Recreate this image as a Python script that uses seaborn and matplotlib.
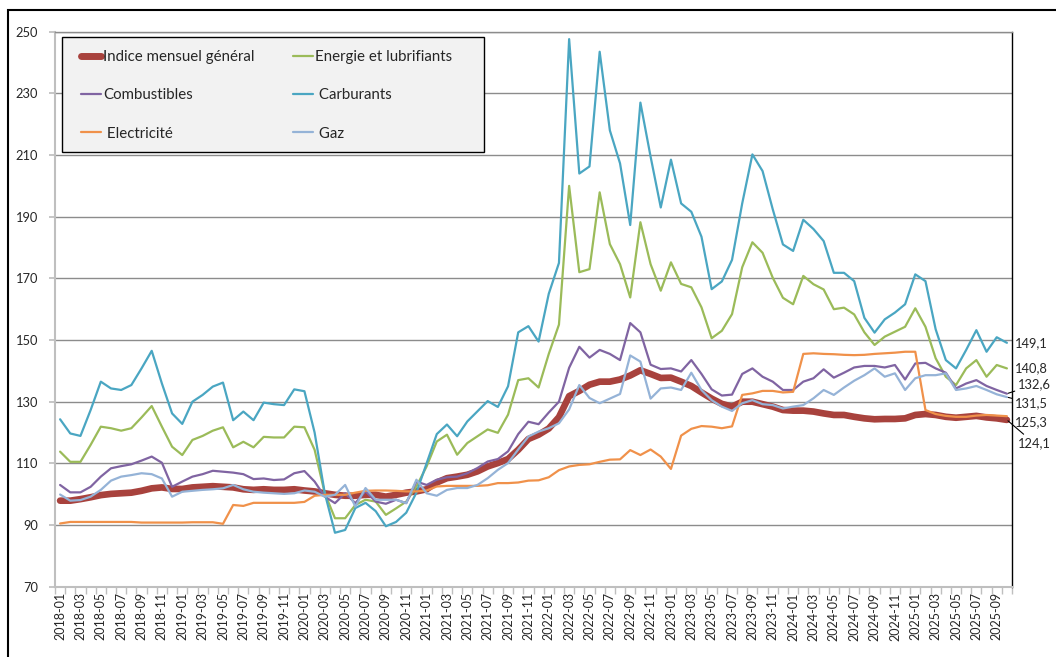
import numpy as np
import pandas as pd
import matplotlib.pyplot as plt
from matplotlib.lines import Line2D
from matplotlib.patches import Rectangle
import seaborn as sns

# monthly series, 2018-01 .. 2025-10
months = pd.date_range('2018-01', periods=94, freq='MS').strftime('%Y-%m').tolist()

indice = [97.9, 97.9, 98.4, 99.0, 99.7, 100.1, 100.3, 100.5, 101.1, 101.9, 102.2, 101.7,
          101.7, 102.2, 102.4, 102.6, 102.4, 102.2, 101.6, 101.4, 101.6, 101.4, 101.4, 101.6,
          101.2, 100.9, 100.3, 99.8, 99.5, 99.5, 99.8, 99.8, 99.2, 99.8, 100.5, 100.9,
          101.6, 103.8, 105.2, 105.7, 106.3, 107.4, 109.0, 110.1, 111.4, 114.4, 117.9, 119.3,
          121.3, 125.0, 131.8, 133.5, 135.5, 136.5, 136.5, 137.2, 138.5, 140.2, 139.0, 137.7,
          137.8, 136.5, 135.1, 133.0, 131.0, 129.3, 128.4, 130.0, 130.0, 129.2, 128.4, 127.3,
          127.1, 127.1, 126.8, 126.2, 125.7, 125.7, 125.1, 124.6, 124.3, 124.4, 124.4, 124.6,
          125.7, 126.0, 125.7, 125.1, 124.8, 125.1, 125.4, 124.9, 124.6, 124.1]

energie = [113.8, 110.5, 110.5, 116.0, 121.9, 121.4, 120.6, 121.4, 124.9, 128.6, 121.9, 115.4,
           112.7, 117.6, 118.9, 120.6, 121.7, 115.2, 117.0, 115.2, 118.6, 118.4, 118.4, 121.9,
           121.7, 114.4, 100.3, 92.2, 92.2, 96.5, 98.2, 97.6, 93.3, 95.4, 97.6, 102.5,
           109.0, 117.1, 119.3, 112.8, 116.6, 118.8, 121.0, 119.9, 125.8, 137.0, 137.6, 134.6,
           145.5, 155.0, 200.0, 172.0, 173.0, 197.9, 181.1, 174.6, 163.8, 188.2, 174.6, 166.0,
           175.2, 168.2, 167.1, 160.6, 150.6, 153.0, 158.4, 173.6, 181.7, 178.3, 170.2, 163.7,
           161.6, 170.8, 168.1, 166.4, 160.0, 160.5, 158.3, 152.5, 148.4, 151.1, 152.7, 154.3,
           160.3, 154.3, 144.1, 138.1, 135.4, 140.8, 143.5, 138.1, 141.9, 140.8]

combustibles = [103.0, 100.6, 100.6, 102.4, 105.7, 108.4, 109.1, 109.7, 110.9, 112.2, 110.2, 102.4,
                104.1, 105.7, 106.5, 107.6, 107.3, 107.0, 106.5, 104.9, 105.1, 104.6, 104.8, 106.8,
                107.5, 104.1, 99.2, 97.1, 100.3, 97.1, 101.0, 97.6, 96.9, 98.2, 97.1, 104.1,
                103.0, 104.7, 105.5, 105.7, 106.8, 108.5, 110.6, 111.4, 113.9, 119.5, 123.5, 122.7,
                126.5, 130.0, 141.0, 147.8, 144.3, 146.8, 145.5, 143.5, 155.5, 152.5, 142.0, 140.6,
                140.8, 139.8, 143.5, 139.0, 134.0, 132.0, 132.3, 139.0, 140.8, 138.1, 136.5, 133.8,
                133.8, 136.5, 137.6, 140.5, 137.8, 139.4, 141.1, 141.6, 141.6, 141.1, 141.9, 137.2,
                142.4, 142.6, 140.8, 139.4, 134.3, 135.9, 137.0, 135.1, 133.8, 132.6]

carburants = [124.3, 119.7, 118.9, 127.3, 136.5, 134.3, 133.8, 135.4, 140.8, 146.5, 135.9, 126.2,
              122.8, 130.0, 132.2, 134.9, 136.2, 124.0, 126.8, 124.0, 129.7, 129.2, 128.9, 134.0,
              133.4, 120.0, 100.3, 87.5, 88.4, 95.5, 97.2, 94.5, 89.6, 91.0, 94.0, 100.5,
              110.0, 119.5, 122.6, 118.8, 123.6, 126.9, 130.2, 128.3, 135.0, 152.5, 154.5, 149.5,
              165.0, 175.0, 247.6, 204.0, 206.3, 243.5, 218.0, 207.3, 187.3, 227.0, 209.5, 193.0,
              208.5, 194.3, 191.6, 183.5, 166.5, 169.0, 176.0, 194.3, 210.2, 204.8, 192.4, 181.0,
              178.9, 189.0, 186.0, 182.1, 171.8, 171.8, 169.1, 157.2, 152.4, 156.7, 158.9, 161.6,
              171.3, 169.1, 153.5, 143.5, 140.8, 146.8, 153.2, 146.2, 150.9, 149.1]

electricite = [90.5, 91.0, 91.0, 91.0, 91.0, 91.0, 91.0, 91.0, 90.8, 90.8, 90.8, 90.8,
               90.8, 90.9, 90.9, 90.9, 90.4, 96.5, 96.2, 97.2, 97.2, 97.2, 97.2, 97.2,
               97.5, 99.5, 99.8, 99.8, 99.8, 100.5, 101.1, 101.2, 101.2, 101.1, 100.9, 100.9,
               101.2, 102.5, 102.7, 102.7, 102.7, 102.7, 102.9, 103.6, 103.6, 103.8, 104.4, 104.5,
               105.5, 107.8, 109.0, 109.5, 109.7, 110.5, 111.2, 111.3, 114.3, 112.7, 114.5, 112.2,
               108.2, 119.0, 121.2, 122.1, 121.9, 121.4, 122.0, 132.2, 132.7, 133.5, 133.5, 133.0,
               133.2, 145.5, 145.7, 145.5, 145.4, 145.2, 145.1, 145.2, 145.5, 145.7, 145.9, 146.2,
               146.2, 127.3, 126.0, 125.4, 125.1, 125.1, 125.5, 125.7, 125.5, 125.3]

gaz = [99.9, 97.9, 98.1, 99.2, 101.4, 104.4, 105.7, 106.2, 106.8, 106.5, 105.1, 99.2,
       100.8, 101.1, 101.4, 101.6, 101.9, 103.0, 101.6, 100.8, 100.5, 100.3, 100.1, 100.3,
       101.2, 100.8, 99.2, 99.8, 103.0, 96.0, 102.0, 98.2, 98.2, 98.2, 97.1, 104.7,
       100.3, 99.5, 101.4, 102.0, 102.0, 103.0, 105.2, 107.9, 110.1, 114.5, 118.7, 120.3,
       121.4, 123.0, 127.5, 135.4, 131.2, 129.5, 131.0, 132.5, 145.0, 143.0, 131.0, 134.3,
       134.6, 133.8, 139.4, 133.8, 130.5, 128.4, 127.0, 129.5, 130.5, 129.2, 128.9, 127.8,
       128.4, 128.9, 131.1, 133.8, 132.2, 134.6, 136.8, 138.6, 140.8, 138.1, 139.2, 133.8,
       137.6, 138.6, 138.6, 139.2, 133.8, 134.3, 135.1, 133.8, 132.4, 131.5]

names = ['Indice mensuel général', 'Energie et lubrifiants', 'Combustibles',
         ' Carburants', ' Electricité', ' Gaz']
colors = ['#A8423D', '#9BBB59', '#8064A2', '#4AA6C2', '#F0914A', '#95B3D7']
widths = [4.8, 1.6, 1.6, 1.6, 1.6, 1.6]

sns.set_theme(style='white')
plt.rcParams['font.family'] = ['Lato', 'DejaVu Sans']

W, H = 1056, 657
fig = plt.figure(figsize=(W / 100, H / 100), dpi=100)
ax = fig.add_axes([55 / W, 1 - 586.7 / H, 957 / W, 555 / H])

x = np.arange(len(months))
all_series = [indice, energie, combustibles, carburants, electricite, gaz]
for name, vals, col, lw in zip(names, all_series, colors, widths):
    sns.lineplot(x=x, y=vals, ax=ax, color=col, linewidth=lw, legend=False,
                 solid_capstyle='round', solid_joinstyle='round', zorder=3)

ax.set_xlim(-0.5, len(months) - 0.5)
ax.set_ylim(70, 250)
ax.set_yticks(range(70, 251, 20))
ax.yaxis.grid(True, color='#8C8C8C', linewidth=1)
ax.xaxis.grid(False)
ax.set_axisbelow(True)

ax.set_xticks(x[::2])
ax.set_xticklabels(months[::2], rotation=90)
ax.set_xticks(np.arange(-0.5, len(months)), minor=True)
ax.tick_params(axis='x', which='major', length=0, pad=4, labelsize=9, labelcolor='#262626')
ax.tick_params(axis='x', which='minor', length=5, color='#BFBFBF', width=1, bottom=True)
ax.tick_params(axis='y', length=4, color='#BFBFBF', pad=8, labelsize=9.3, labelcolor='#262626', left=True)
ax.set_xlabel('')
ax.set_ylabel('')

for side in ['left', 'bottom']:
    ax.spines[side].set_color('#BFBFBF')
    ax.spines[side].set_linewidth(1.5)
ax.spines['right'].set_color('black')
ax.spines['right'].set_linewidth(1)
ax.spines['top'].set_color('#8C8C8C')
ax.spines['top'].set_linewidth(1)

# end-of-series value labels
label_offsets = {'Carburants': (6, 0, False), 'Energie': (6, 0, False),
                 'Combustibles': (8, 6.5, True), 'Gaz': (6, -4.5, True),
                 'Electricite': (6, -4.5, False), 'Indice': (8, -17, True)}
ends = [('Carburants', carburants), ('Energie', energie), ('Combustibles', combustibles),
        ('Gaz', gaz), ('Electricite', electricite), ('Indice', indice)]
for key, vals in ends:
    dx, dy, leader = label_offsets[key]
    v = vals[-1]
    ax.annotate(f'{v:.1f}'.replace('.', ','), xy=(x[-1], v), xytext=(dx, dy),
                textcoords='offset points', ha='left', va='center', fontsize=9.3,
                color='#262626', annotation_clip=False,
                arrowprops=dict(arrowstyle='-', color='black', lw=0.8,
                                shrinkA=0, shrinkB=1) if leader else None)

# legend box
fig.add_artist(Rectangle((62 / W, 1 - 152 / H), 422 / W, 115 / H, transform=fig.transFigure,
                         facecolor='#F2F2F2', edgecolor='black', linewidth=1, zorder=5))
handles = [Line2D([], [], color=c, lw=(5 if i == 0 else 1.6)) for i, c in enumerate(colors)]
order = [0, 2, 4, 1, 3, 5]
leg = fig.legend([handles[i] for i in order], [names[i] for i in order], ncol=2,
                 loc='upper left', bbox_to_anchor=(81 / W, 1 - 50 / H),
                 bbox_transform=fig.transFigure, frameon=False, fontsize=10.8,
                 handlelength=1.35, handletextpad=0.12, labelspacing=1.62,
                 columnspacing=2.55, borderpad=0, borderaxespad=0)
leg.set_zorder(6)

# chart-area border
fig.add_artist(Rectangle((7.5 / W, -0.05), 1.2, 1.05 - 10 / H, transform=fig.transFigure,
                         facecolor='none', edgecolor='black', linewidth=1.5, zorder=7))

fig.savefig('out.png', dpi=100)
